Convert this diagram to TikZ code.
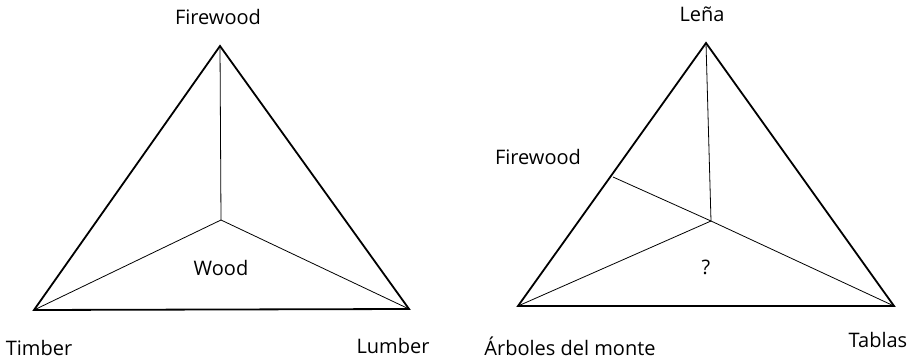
\documentclass[tikz,border=0pt]{standalone}
\usepackage{fontspec}
\setmainfont{Open Sans}
\begin{document}
\begin{tikzpicture}[x=1pt,y=-1pt,font=\fontsize{20}{22}\selectfont]
\tikzset{outer/.style={line width=1.8pt,line join=miter},inner/.style={line width=0.8pt}}
\useasboundingbox (0,0) rectangle (911,361);
% left triangle
\coordinate (top) at (220,46);
\coordinate (tl) at (34,310);
\coordinate (lr) at (409,309);
\coordinate (mid) at (221,220);
\draw [outer] (top) -- (lr) -- (tl) -- cycle;
\draw [inner] (mid) -- (top);
\draw [inner] (mid) -- (tl);
\draw [inner] (mid) -- (lr);
\node (firewood) at (218,17) {Firewood};
\node (wood) at (221,268) {Wood};
\node (timber) at (39,348) {Timber};
\node (lumber) at (393,346) {Lumber};
% right triangle
\coordinate (lena top) at (706,43);
\coordinate (arb) at (518,306);
\coordinate (tab) at (894,306);
\coordinate (rmid) at (711,221);
\coordinate (edge) at (613,177);
\draw [outer] (lena top) -- (tab) -- (arb) -- cycle;
\draw [inner] (rmid) -- (lena top);
\draw [inner] (rmid) -- (arb);
\draw [inner] (rmid) -- (tab);
\draw [inner] (rmid) -- (edge);
\node (lena) at (702,14) {Leña};
\node (fw2) at (538,157) {Firewood};
\node (q) at (706,267) {?};
\node (arboles) at (570,346) {Árboles del monte};
\node (tablas) at (878,340) {Tablas};
\end{tikzpicture}
\end{document}
